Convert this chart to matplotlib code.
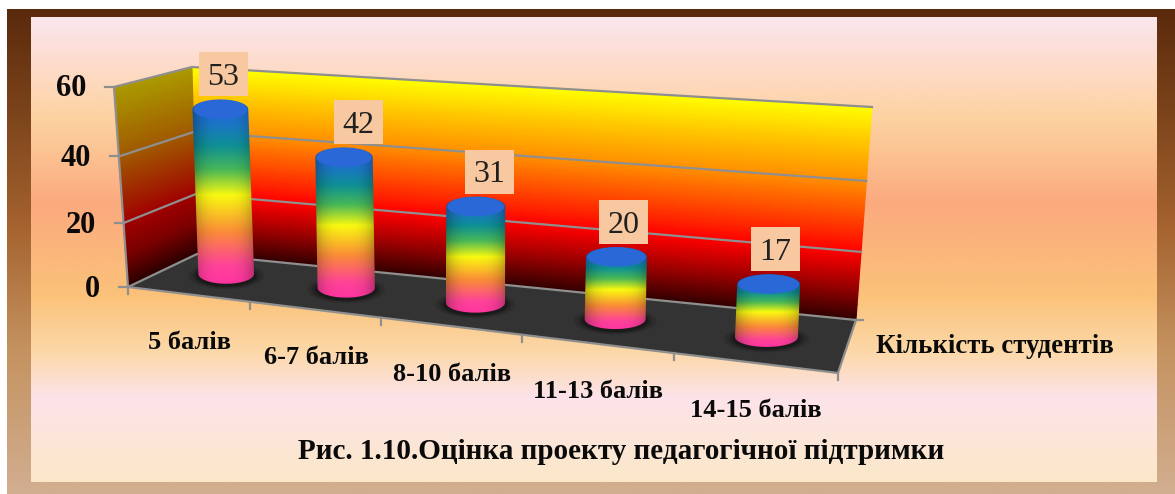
import numpy as np
import matplotlib
matplotlib.use("Agg")
import matplotlib.pyplot as plt
from matplotlib.colors import LinearSegmentedColormap
from matplotlib.patches import Ellipse, PathPatch, Polygon, Rectangle
from matplotlib.path import Path

categories = ["5 балів", "6-7 балів", "8-10 балів", "11-13 балів", "14-15 балів"]
values = [53, 42, 31, 20, 17]
yticks = [0, 20, 40, 60]
series_name = "Кількість студентів"
title = "Рис. 1.10.Оцінка проекту педагогічної підтримки"

W, H = 1175, 494
plt.rcParams["font.family"] = ["Liberation Serif", "DejaVu Serif"]

# corners of the 3d box, in pixels of the picture
FL0, BL0, BR0, FR0 = (128, 287), (197, 254), (856, 320), (838, 373)
FL1, BL1, BR1, FR1 = (114, 87), (192, 67), (872, 107), (845, 145)
YMAX = 60
PERSP_U = 0.83
PERSP_V = 0.94
PX_PER_UNIT = 3.1
label_nudge = [3, 14, 14, 7, 7]


def warp(t, k):
    return k * t / (1 + (k - 1) * t)


def project(u, v, w):
    # u along the categories 0-1, v the value, w depth 0 front 1 back
    s = warp(u, PERSP_U)
    t = warp(v / YMAX, PERSP_V)
    bottom = [(1 - w) * ((1 - s) * FL0[i] + s * FR0[i]) + w * ((1 - s) * BL0[i] + s * BR0[i]) for i in (0, 1)]
    top = [(1 - w) * ((1 - s) * FL1[i] + s * FR1[i]) + w * ((1 - s) * BL1[i] + s * BR1[i]) for i in (0, 1)]
    return (1 - t) * bottom[0] + t * top[0], (1 - t) * bottom[1] + t * top[1]


def vgrad(ax, stops, x0, x1, y0, y1, **kw):
    cm = LinearSegmentedColormap.from_list("g", stops)
    arr = np.linspace(0, 1, 256).reshape(-1, 1)
    return ax.imshow(arr, cmap=cm, extent=(x0, x1, y1, y0), aspect="auto", **kw)


fig = plt.figure(figsize=(W / 100, H / 100), dpi=100)
ax = fig.add_axes([0, 0, 1, 1])

# frame and panel background
frame = [(0, "#5a2a0c"), (0.2, "#7a421a"), (0.45, "#a5632f"), (0.7, "#c4925f"), (1, "#d2ae90")]
vgrad(ax, frame, 7, W, 10, H, zorder=1)
panel = [(0, "#fbe6ee"), (0.1, "#fddccb"), (0.22, "#fdd2a0"), (0.4, "#fbaa7e"), (0.6, "#fbc27a"),
         (0.72, "#fcd8a8"), (0.82, "#fde3ea"), (1, "#fbe8c8")]
vgrad(ax, panel, 31, 1157, 18, 482, zorder=2)

# walls
wall_stops = [(0, "#300000"), (0.17, "#a00000"), (0.33, "#ff0000"), (0.67, "#ff9000"), (0.85, "#ffc800"), (1, "#ffff00")]
side_stops = [(0, "#2a0000"), (0.17, "#7a0000"), (0.33, "#a00000"), (0.67, "#a05a00"), (1, "#ab9a00")]
wall_cm = LinearSegmentedColormap.from_list("wall", wall_stops)
side_cm = LinearSegmentedColormap.from_list("side", side_stops)
vv = np.linspace(0, YMAX, 40)
uu = np.linspace(0, 1, 40)
uv, vu = np.meshgrid(uu, vv)
xb, yb = project(uv, vu, 1.0)
ax.pcolormesh(xb, yb, vu, cmap=wall_cm, shading="gouraud", zorder=3, vmin=0, vmax=YMAX)
ww = np.linspace(0, 1, 10)
wv, vw = np.meshgrid(ww, vv)
xs, ys = project(0.0, vw, wv)
ax.pcolormesh(xs, ys, vw, cmap=side_cm, shading="gouraud", zorder=3, vmin=0, vmax=YMAX)

# floor
ax.add_patch(Polygon([FL0, BL0, BR0, FR0], closed=True, fc="#333333", ec="none", zorder=4))

# grid and axis lines
gray = "#8f8f8f"
for t in yticks:
    pts = [project(0, t, 0), project(0, t, 1), project(1, t, 1)]
    ax.plot([p[0] for p in pts], [p[1] for p in pts], color=gray, lw=1.6, zorder=5)
    x0, y0 = pts[0]
    ax.plot([x0 - 9, x0], [y0, y0], color=gray, lw=1.6, zorder=5)
    ax.text(x0 - 28, y0 + 2, str(t), ha="right", va="center", fontsize=22, fontweight="bold", color="#0a0a0a", zorder=9)
ax.plot([FL0[0], FL1[0]], [FL0[1], FL1[1]], color=gray, lw=1.6, zorder=5)
ax.plot([FL0[0], FR0[0], BR0[0]], [FL0[1], FR0[1], BR0[1]], color=gray, lw=1.6, zorder=5)
ax.plot([BR0[0], BR0[0] + 7], [BR0[1], BR0[1]], color=gray, lw=1.6, zorder=5)
for i in range(len(categories) + 1):
    x0, y0 = project(i / len(categories), 0, 0)
    ax.plot([x0, x0], [y0, y0 + 7], color=gray, lw=1.6, zorder=5)

# cylinders
bar_stops = [(0, "#2068d8"), (0.13, "#1c74c8"), (0.25, "#0e9095"), (0.38, "#48b858"), (0.52, "#fafa10"),
             (0.72, "#fb8c38"), (0.9, "#ff4398"), (1, "#ff35a0")]
bar_cm = LinearSegmentedColormap.from_list("bar", bar_stops)
n = len(values)
for i, val in enumerate(values):
    u = (i + 0.5) / n
    s = warp(u, PERSP_U)
    depth = 0.6 - 0.1 * s
    xb0, yb0 = project(u, 0, depth)
    xtop, ytop = project(u, YMAX, depth)
    yb1 = yb0 - PX_PER_UNIT * val
    xb1 = xb0 + (xtop - xb0) * (yb0 - yb1) / (yb0 - ytop)
    a = 27.5 + 4.5 * s
    b = 10

    for k, alpha in zip((1.35, 1.2, 1.1), (0.12, 0.18, 0.25)):
        ax.add_patch(Ellipse((xb0, yb0 + 2), 2 * a * k, 2 * b * k, fc="black", ec="none", alpha=alpha, zorder=6))

    th = np.linspace(np.pi, 0, 40)
    # body outline: down the left side, round the base, up the right, back over the top
    xs_out = np.concatenate([xb0 + a * np.cos(th), xb1 + a * np.cos(th[::-1])])
    ys_out = np.concatenate([yb0 + b * np.sin(th), yb1 - b * np.sin(th[::-1])])
    clip = PathPatch(Path(np.column_stack([xs_out, ys_out])), transform=ax.transData, fc="none", ec="none")
    ax.add_patch(clip)

    rows = np.linspace(0, 1, 200)
    cols = np.linspace(-1, 1, 100)
    rgb = bar_cm(rows)[:, :3]
    shade = 1 - 0.3 * np.abs(cols) ** 3
    img = rgb[:, None, :] * shade[None, :, None]
    left = min(xb0, xb1) - a - 1
    right = max(xb0, xb1) + a + 1
    im = ax.imshow(img, extent=(left, right, yb0 + b, yb1 - b), aspect="auto", zorder=7)
    im.set_clip_path(clip)

    ax.add_patch(Ellipse((xb1, yb1), 2 * a - 2, 2 * b - 1, fc="#2a68d8", ec="none", zorder=8))

    lx = xb1 + label_nudge[i]
    ly = yb1 - 35
    ax.add_patch(Rectangle((lx - 24.5, ly - 22), 49, 44, fc="#f8c8a0", ec="none", zorder=9))
    ax.text(lx, ly + 3, str(val), ha="center", va="center", fontsize=23, color="#202020", zorder=10)

    xt, yt = project(u, 0, 0)
    ax.text(xt + 2, yt + 48, categories[i], ha="center", va="center", fontsize=19, fontweight="bold", color="#0a0a0a", zorder=9)

ax.text(876, 346, series_name, ha="left", va="center", fontsize=19.3, fontweight="bold", color="#0a0a0a", zorder=9)
ax.text(621, 451, title, ha="center", va="center", fontsize=21, fontweight="bold", color="#0a0a0a", zorder=9)

ax.set_xlim(0, W)
ax.set_ylim(H, 0)
ax.axis("off")
fig.savefig("out.png", dpi=100, facecolor="white")
